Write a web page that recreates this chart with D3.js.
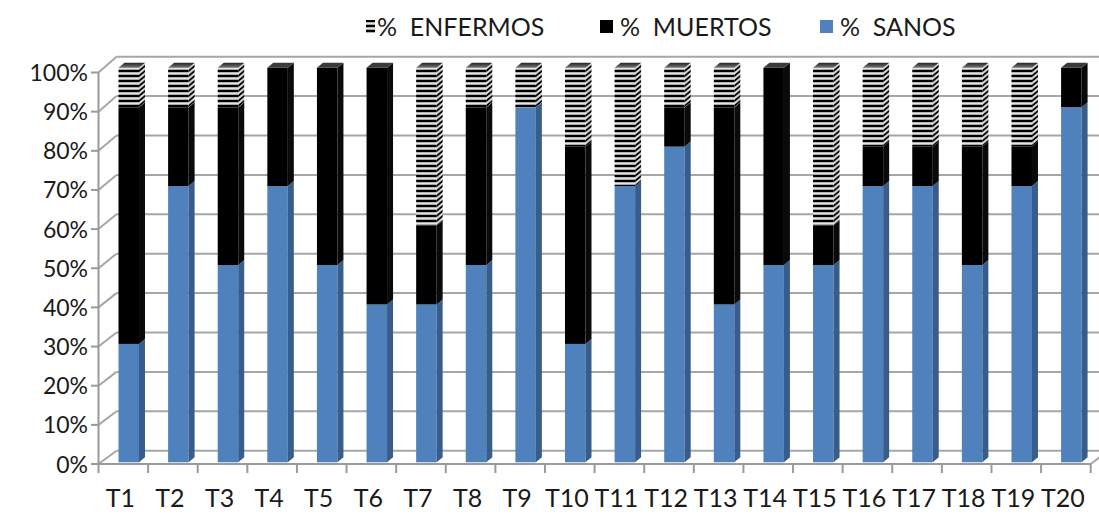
<!DOCTYPE html>
<html>
<head>
<meta charset="utf-8">
<script src="https://cdn.jsdelivr.net/npm/d3@7"></script>
<style>
  body { margin: 0; background: #fff; }
  text { font-family: Lato, "Open Sans", sans-serif; fill: #1a1a1a; }
</style>
</head>
<body>
<svg id="chart" width="1099" height="520"></svg>
<script>
const categories = ["T1","T2","T3","T4","T5","T6","T7","T8","T9","T10","T11","T12","T13","T14","T15","T16","T17","T18","T19","T20"];
const sanos    = [30, 70, 50, 70, 50, 40, 40, 50, 90, 30, 70, 80, 40, 50, 50, 70, 70, 50, 70, 90];
const muertos  = [60, 20, 40, 30, 50, 60, 20, 40,  0, 50,  0, 10, 50, 50, 10, 10, 10, 30, 10, 10];
const enfermos = [10, 10, 10,  0,  0,  0, 40, 10, 10, 20, 30, 10, 10,  0, 40, 20, 20, 20, 20,  0];
const yTicks = [0, 10, 20, 30, 40, 50, 60, 70, 80, 90, 100];
const seriesNames = ["% SANOS", "% MUERTOS", "% ENFERMOS"];

const svg = d3.select("#chart");

// front axis, back wall and bar faces use slightly different vertical scales (3D look)
const yFront = d3.scaleLinear().domain([0, 100]).range([464, 72.5]);
const yBack = d3.scaleLinear().domain([0, 100]).range([450.7, 56.7]);
const yBar = d3.scaleLinear().domain([0, 100]).range([462.3, 67.7]);
const x = d3.scaleBand().domain(categories).range([98.5, 1090.7]).paddingInner(0).paddingOuter(0);

const wallDx = 18;
const barOff = 20, barW = 20.5, sideDx = 6, sideDy = -5;
const skewAngle = Math.atan(-sideDy / sideDx) * 180 / Math.PI;

const defs = svg.append("defs");

// horizontal stripe pattern for ENFERMOS
const addStripes = (id, transform) => {
  const p = defs.append("pattern")
    .attr("id", id)
    .attr("patternUnits", "userSpaceOnUse")
    .attr("width", 10).attr("height", 5);
  if (transform) p.attr("patternTransform", transform);
  p.append("rect").attr("width", 10).attr("height", 5).attr("fill", "#fff");
  p.append("rect").attr("y", 0).attr("width", 10).attr("height", 2.3).attr("fill", "#000");
  p.append("rect").attr("y", 3.7).attr("width", 10).attr("height", 1.3).attr("fill", "#a8a8a8");
};
addStripes("stripeFront");

const topGrad = defs.append("linearGradient").attr("id", "topGray")
  .attr("x1", 0).attr("y1", 1).attr("x2", 0).attr("y2", 0);
topGrad.append("stop").attr("offset", "0%").attr("stop-color", "#777");
topGrad.append("stop").attr("offset", "100%").attr("stop-color", "#222");

// gridlines on the back wall and the left side wall
const grid = svg.append("g");
yTicks.forEach(t => {
  grid.append("line")
    .attr("x1", 98.5 + wallDx).attr("x2", 1099)
    .attr("y1", yBack(t)).attr("y2", yBack(t))
    .attr("stroke", "#a6a6a6").attr("stroke-width", 2);
  grid.append("line")
    .attr("x1", 98.5).attr("y1", yFront(t))
    .attr("x2", 98.5 + wallDx).attr("y2", yBack(t))
    .attr("stroke", "#a6a6a6").attr("stroke-width", 2);
});

// y axis
const yAxisG = svg.append("g");
yAxisG.append("line")
  .attr("x1", 98.5).attr("x2", 98.5)
  .attr("y1", yFront(100)).attr("y2", yFront(0))
  .attr("stroke", "#999").attr("stroke-width", 2);
yTicks.forEach(t => {
  yAxisG.append("line")
    .attr("x1", 91).attr("x2", 98.5)
    .attr("y1", yFront(t)).attr("y2", yFront(t))
    .attr("stroke", "#999").attr("stroke-width", 2);
  yAxisG.append("text")
    .attr("x", 88).attr("y", yFront(t) + 8.5)
    .attr("text-anchor", "end")
    .attr("font-size", 23)
    .text(t + "%");
});

// floor front edge and x ticks
const xAxisG = svg.append("g");
xAxisG.append("line")
  .attr("x1", 98.5).attr("x2", 1090.7)
  .attr("y1", 464).attr("y2", 464)
  .attr("stroke", "#999").attr("stroke-width", 2);
xAxisG.append("line")
  .attr("x1", 1090.7).attr("y1", 464)
  .attr("x2", 1090.7 + wallDx).attr("y2", 450.7)
  .attr("stroke", "#a6a6a6").attr("stroke-width", 2);
categories.concat([null]).forEach((c, i) => {
  const xx = c ? x(c) : 1090.7;
  xAxisG.append("line")
    .attr("x1", xx).attr("x2", xx)
    .attr("y1", 464).attr("y2", 473)
    .attr("stroke", "#999").attr("stroke-width", 2);
});
categories.forEach(c => {
  xAxisG.append("text")
    .attr("x", x(c) + x.bandwidth() / 2 - 3)
    .attr("y", 507)
    .attr("text-anchor", "middle")
    .attr("font-size", 25)
    .text(c);
});

// bars
const styles = [
  { front: "#4F81BD", side: "#385D8A", top: "#7FA2D3" },
  { front: "#000", side: "#0a0a0a", top: "#3a3a3a" },
  { front: "url(#stripeFront)", side: null, top: "url(#topGray)" }
];

const barsG = svg.append("g");
categories.forEach((c, i) => {
  const vals = [sanos[i], muertos[i], enfermos[i]];
  const x1 = x(c) + barOff;
  const x2 = x1 + barW;
  addStripes("stripeSide" + i, `translate(${x2},0) skewY(${-skewAngle})`);
  let base = 0;
  let lastIdx = 0;
  vals.forEach((v, s) => { if (v > 0) lastIdx = s; });
  vals.forEach((v, s) => {
    if (v <= 0) return;
    const y0 = yBar(base), y1 = yBar(base + v);
    const st = styles[s];
    barsG.append("rect")
      .attr("x", x1).attr("y", y1)
      .attr("width", barW).attr("height", y0 - y1)
      .attr("fill", st.front);
    barsG.append("path")
      .attr("d", `M${x2},${y0}L${x2 + sideDx},${y0 + sideDy}L${x2 + sideDx},${y1 + sideDy}L${x2},${y1}Z`)
      .attr("fill", st.side || `url(#stripeSide${i})`);
    if (s === lastIdx) {
      barsG.append("path")
        .attr("d", `M${x1},${y1}L${x2},${y1}L${x2 + sideDx},${y1 + sideDy}L${x1 + sideDx},${y1 + sideDy}Z`)
        .attr("fill", st.top);
    }
    base += v;
  });
});

// legend
const legend = svg.append("g");
const legendItems = [
  { name: seriesNames[2], fill: "url(#stripeFront)", x: 366, w: 9, tx: 377 },
  { name: seriesNames[1], fill: "#000", x: 600, w: 13, tx: 620 },
  { name: seriesNames[0], fill: "#4F81BD", x: 820, w: 13, tx: 840 }
];
legendItems.forEach(d => {
  legend.append("rect")
    .attr("x", d.x).attr("y", 20)
    .attr("width", d.w).attr("height", 13)
    .attr("fill", d.fill);
  legend.append("text")
    .attr("x", d.tx).attr("y", 36)
    .attr("font-size", 25)
    .text(d.name.replace(" ", "\u00a0\u00a0"));
});
</script>
</body>
</html>
